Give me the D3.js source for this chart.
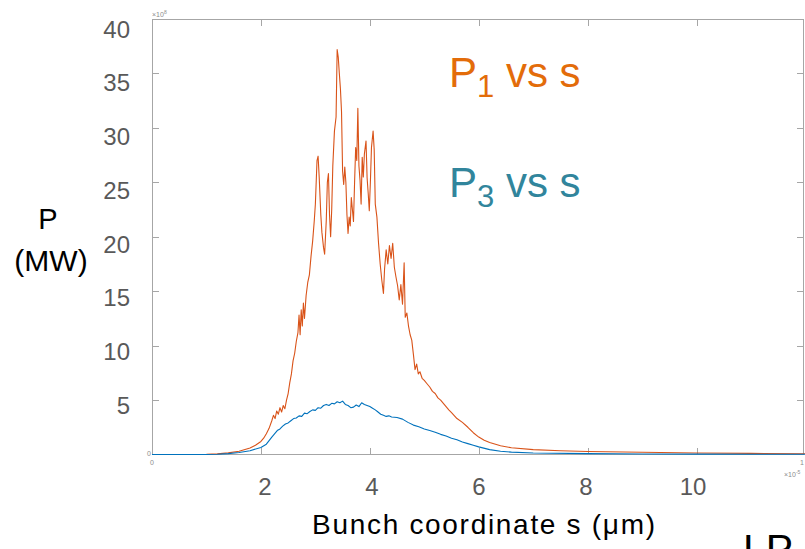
<!DOCTYPE html>
<html lang="en">
<head>
<meta charset="UTF-8">
<script src="https://d3js.org/d3.v7.min.js"></script>
<title>P vs s</title>
<style>
  body { margin: 0; background: #fff; }
  svg { display: block; font-family: "Liberation Sans", Arial, sans-serif; }
  .frame { fill: none; stroke: #a6a6a6; stroke-width: 1; shape-rendering: crispEdges; }
  .tick { stroke: #a6a6a6; stroke-width: 1; shape-rendering: crispEdges; }
  .big { fill: #595959; font-size: 24px; }
  .tiny { fill: #8c8c8c; font-size: 7px; }
</style>
</head>
<body>
<div class="chart"></div>
<script>
// bunch coordinate s (um) and power (MW)
var sP1 = [0, 0.5, 1.0, 1.2, 1.4, 1.6, 1.8, 1.9, 2.0, 2.05, 2.1, 2.15, 2.2, 2.23, 2.26, 2.29, 2.32, 2.35, 2.38, 2.41,
  2.44, 2.47, 2.5, 2.53, 2.56, 2.59, 2.62, 2.65, 2.68, 2.7, 2.72, 2.74, 2.76, 2.78, 2.8, 2.83, 2.86, 2.89, 2.92, 2.95,
  2.98, 3.0, 3.03, 3.05, 3.07, 3.1, 3.12, 3.15, 3.17, 3.2, 3.22, 3.24, 3.26, 3.28, 3.3, 3.32, 3.35, 3.38, 3.4, 3.42,
  3.44, 3.46, 3.48, 3.5, 3.52, 3.54, 3.56, 3.58, 3.6, 3.62, 3.64, 3.66, 3.68, 3.7, 3.72, 3.74, 3.76, 3.78, 3.8, 3.82,
  3.84, 3.86, 3.88, 3.9, 3.93, 3.95, 3.97, 3.99, 4.01, 4.03, 4.06, 4.08, 4.1, 4.13, 4.16, 4.19, 4.22, 4.25, 4.27, 4.3,
  4.33, 4.36, 4.39, 4.42, 4.45, 4.48, 4.51, 4.54, 4.57, 4.6, 4.63, 4.65, 4.68, 4.71, 4.74, 4.77, 4.8, 4.83, 4.86, 4.89,
  4.92, 4.96, 5.0, 5.05, 5.1, 5.15, 5.2, 5.25, 5.3, 5.35, 5.4, 5.45, 5.5, 5.6, 5.7, 5.8, 5.9, 6.0, 6.1, 6.2,
  6.4, 6.6, 7.0, 7.5, 8.0, 9.0, 10.0, 11.0, 12.0];
var p1 = [0, 0, 0.02, 0.06, 0.15, 0.3, 0.6, 0.85, 1.2, 1.5, 1.9, 2.4, 3.1, 3.6, 3.3, 4.0, 3.7, 4.3, 3.9, 4.5,
  4.2, 5.0, 5.6, 6.6, 7.4, 8.6, 9.3, 10.4, 11.2, 12.8, 11.0, 13.3, 11.8, 13.9, 12.5, 14.6, 15.8, 16.5, 18.2, 19.6,
  21.5, 23.0, 27.0, 27.4, 25.5, 22.0, 20.4, 19.0, 18.4, 21.5, 25.0, 25.8, 22.0, 20.0, 22.5, 26.5, 29.7, 31.0, 37.2, 36.5,
  35.0, 33.6, 31.5, 26.0, 24.8, 26.4, 25.0, 22.0, 20.3, 21.8, 21.0, 23.6, 22.5, 21.4, 25.0, 28.2, 27.0, 31.8, 26.5, 25.2,
  23.0, 27.3, 25.5, 27.6, 28.8, 25.4, 24.0, 22.4, 25.0, 28.2, 29.7, 28.0, 23.0, 21.8, 19.4, 17.5, 16.0, 14.8, 17.0, 18.8,
  17.5, 19.2, 18.0, 19.4, 17.2, 16.3, 15.5, 14.2, 15.6, 13.8, 17.6, 12.6, 13.0, 11.8, 11.0, 10.5, 9.2, 7.8, 8.3, 7.4,
  7.6, 7.0, 6.8, 6.5, 6.2, 5.8, 5.6, 5.2, 5.0, 4.7, 4.4, 4.1, 3.85, 3.3, 2.95, 2.5, 2.0, 1.6, 1.3, 1.1,
  0.8, 0.62, 0.45, 0.35, 0.28, 0.2, 0.14, 0.1, 0.07];

var sP3 = [0, 1.0, 1.2, 1.4, 1.6, 1.8, 2.0, 2.1, 2.2, 2.25, 2.3, 2.35, 2.4, 2.45, 2.5, 2.55, 2.6, 2.65, 2.7, 2.75,
  2.8, 2.85, 2.9, 2.95, 3.0, 3.05, 3.1, 3.15, 3.2, 3.25, 3.3, 3.35, 3.4, 3.45, 3.5, 3.55, 3.6, 3.65, 3.7, 3.75,
  3.8, 3.85, 3.9, 3.95, 4.0, 4.05, 4.1, 4.15, 4.2, 4.25, 4.3, 4.35, 4.4, 4.5, 4.6, 4.7, 4.8, 4.9, 5.0, 5.1,
  5.2, 5.3, 5.4, 5.5, 5.6, 5.7, 5.8, 5.9, 6.0, 6.2, 6.4, 6.6, 7.0, 8.0, 9.0, 10.0, 12.0];
var p3 = [0, 0, 0.02, 0.08, 0.18, 0.35, 0.65, 0.95, 1.6, 1.9, 2.2, 2.35, 2.6, 2.8, 2.9, 3.1, 3.3, 3.35, 3.55, 3.5,
  3.8, 3.75, 3.95, 4.1, 4.05, 4.3, 4.25, 4.5, 4.6, 4.5, 4.7, 4.65, 4.85, 4.75, 4.9, 4.6, 4.5, 4.3, 4.35, 4.55,
  4.4, 4.75, 4.6, 4.5, 4.4, 4.25, 4.1, 3.9, 3.7, 3.6, 3.5, 3.55, 3.45, 3.4, 3.25, 2.95, 2.7, 2.55, 2.35, 2.2,
  2.05, 1.85, 1.7, 1.5, 1.35, 1.15, 1.0, 0.85, 0.7, 0.45, 0.3, 0.22, 0.14, 0.08, 0.05, 0.03, 0.02];

var yTickLabels = [5, 10, 15, 20, 25, 30, 35, 40];
var xTickLabels = [2, 4, 6, 8, 10];
var yTicks = [5, 10, 15, 20, 25, 30, 35];
var xTicks = [2, 4, 6, 8, 10];

var width = 805, height = 549;

var svg = d3.select(".chart").append("svg")
    .attr("width", width)
    .attr("height", height);

// plot area of the matlab figure
var x = d3.scaleLinear().domain([0, 12]).range([152, 805.5]);
var y = d3.scaleLinear().domain([0, 40]).range([454.5, 19]);

// the big labels pasted over the figure sit on their own grid
var yLab = d3.scaleLinear().domain([5, 40]).range([414, 37.5]);
var xLab = d3.scaleLinear().domain([2, 10]).range([265, 693]);

svg.append("rect")
    .attr("class", "frame")
    .attr("x", 152.5)
    .attr("y", 19.5)
    .attr("width", 651)
    .attr("height", 435);

// inward ticks on all four sides
svg.selectAll(".ytl").data(yTicks).enter().append("line")
    .attr("class", "tick")
    .attr("x1", 153).attr("x2", 159)
    .attr("y1", function(d) { return Math.round(y(d)) + 0.5; })
    .attr("y2", function(d) { return Math.round(y(d)) + 0.5; });
svg.selectAll(".ytr").data(yTicks).enter().append("line")
    .attr("class", "tick")
    .attr("x1", 797).attr("x2", 803)
    .attr("y1", function(d) { return Math.round(y(d)) + 0.5; })
    .attr("y2", function(d) { return Math.round(y(d)) + 0.5; });
svg.selectAll(".xtb").data(xTicks).enter().append("line")
    .attr("class", "tick")
    .attr("y1", 448).attr("y2", 454)
    .attr("x1", function(d) { return Math.round(x(d)) + 0.5; })
    .attr("x2", function(d) { return Math.round(x(d)) + 0.5; });
svg.selectAll(".xtt").data(xTicks).enter().append("line")
    .attr("class", "tick")
    .attr("y1", 20).attr("y2", 26)
    .attr("x1", function(d) { return Math.round(x(d)) + 0.5; })
    .attr("x2", function(d) { return Math.round(x(d)) + 0.5; });

// tiny matlab tick labels
svg.append("text").attr("class", "tiny").attr("x", 147).attr("y", 456).text("0");
svg.append("text").attr("class", "tiny").attr("x", 150).attr("y", 465).text("0");
var e8 = svg.append("text").attr("class", "tiny").attr("x", 152).attr("y", 17);
e8.append("tspan").text("\u00d710");
e8.append("tspan").attr("dy", -3).attr("font-size", "5px").text("8");
svg.append("text").attr("class", "tiny").attr("x", 800).attr("y", 465).text("1");
var e5 = svg.append("text").attr("class", "tiny").attr("x", 784).attr("y", 477);
e5.append("tspan").text("\u00d710");
e5.append("tspan").attr("dy", -3).attr("font-size", "5px").text("-5");

// curves
var line = d3.line()
    .x(function(d) { return x(d[0]); })
    .y(function(d) { return y(d[1]); });

svg.append("path")
    .datum(d3.zip(sP1, p1))
    .attr("fill", "none")
    .attr("stroke", "#D95319")
    .attr("stroke-width", 1.1)
    .attr("stroke-linejoin", "round")
    .attr("d", line);

svg.append("path")
    .datum(d3.zip(sP3, p3))
    .attr("fill", "none")
    .attr("stroke", "#0072BD")
    .attr("stroke-width", 1.1)
    .attr("stroke-linejoin", "round")
    .attr("d", line);

// big axis labels
svg.selectAll(".ylab").data(yTickLabels).enter().append("text")
    .attr("class", "big")
    .attr("x", 130)
    .attr("y", function(d) { return yLab(d); })
    .attr("text-anchor", "end")
    .text(function(d) { return d; });

svg.selectAll(".xlab").data(xTickLabels).enter().append("text")
    .attr("class", "big")
    .attr("x", function(d) { return xLab(d); })
    .attr("y", 495)
    .attr("text-anchor", "middle")
    .text(function(d) { return d; });

svg.append("text")
    .attr("x", 48).attr("y", 229)
    .attr("text-anchor", "middle")
    .attr("font-size", "29px")
    .attr("fill", "#000")
    .text("P");
svg.append("text")
    .attr("x", 51).attr("y", 271)
    .attr("text-anchor", "middle")
    .attr("font-size", "30px")
    .attr("fill", "#000")
    .text("(MW)");

svg.append("text")
    .attr("x", 312).attr("y", 534)
    .attr("font-size", "28px")
    .attr("fill", "#000")
    .attr("textLength", 343)
    .attr("lengthAdjust", "spacing")
    .text("Bunch coordinate s (\u03bcm)");

svg.append("text")
    .attr("x", 743).attr("y", 563)
    .attr("font-size", "41px")
    .attr("fill", "#000")
    .text("LP");

// series captions
function caption(yPos, sub, colour) {
  var t = svg.append("text")
      .attr("x", 449).attr("y", yPos)
      .attr("font-size", "42px")
      .attr("fill", colour);
  t.append("tspan").text("P");
  t.append("tspan").attr("dy", 10).attr("font-size", "31px").text(sub);
  t.append("tspan").attr("dy", -10).text(" vs s");
}
caption(87, "1", "#E36C0A");
caption(197, "3", "#31859C");
</script>
</body>
</html>
